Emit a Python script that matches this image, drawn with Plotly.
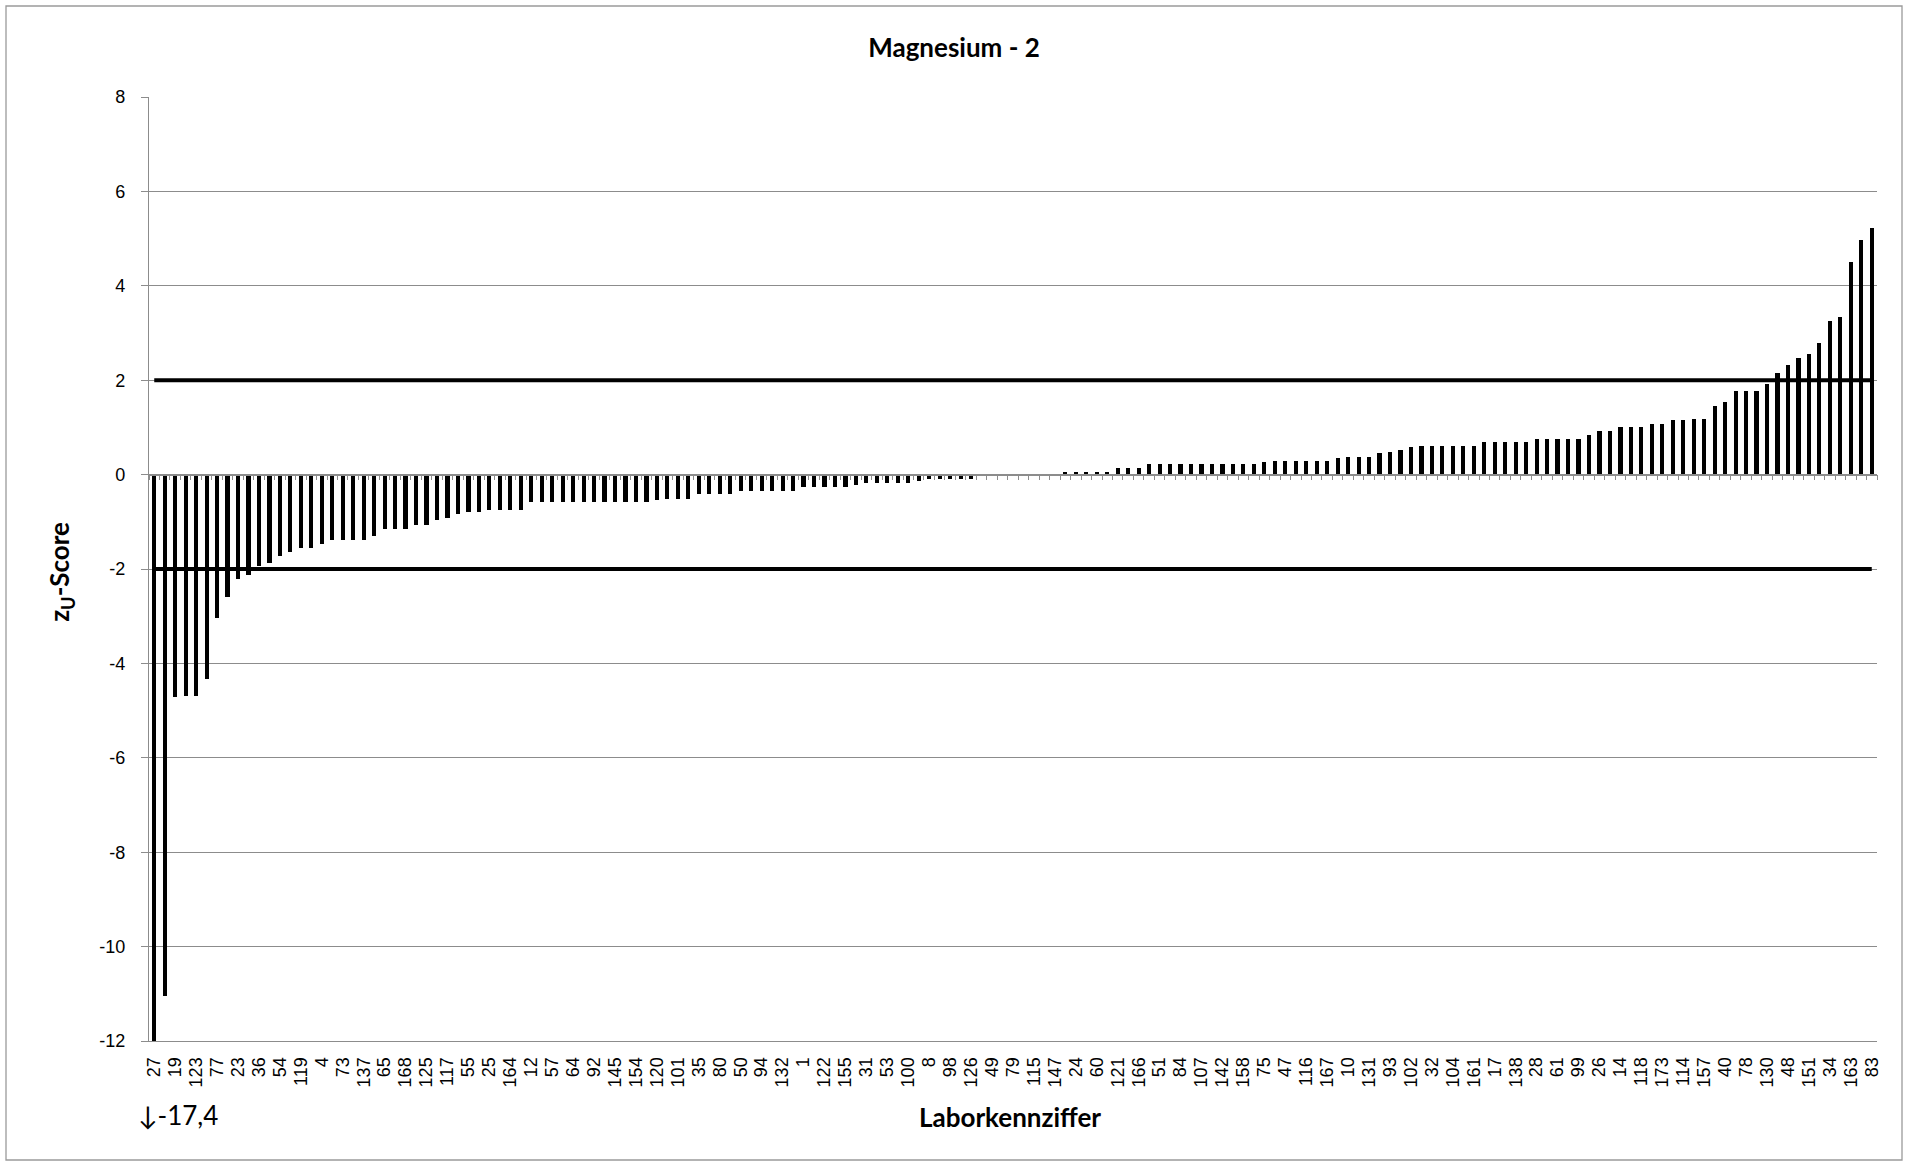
import plotly.graph_objects as go

# ---------------- data ----------------
LAB_LABELS = [
    "27", "19", "123", "77", "23", "36", "54", "119", "4", "73", "137", "65", "168", "125", "117",
    "55", "25", "164", "12", "57", "64", "92", "145", "154", "120", "101", "35", "80", "50", "94",
    "132", "1", "122", "155", "31", "53", "100", "8", "98", "126", "49", "79", "115", "147", "24",
    "60", "121", "166", "51", "84", "107", "142", "158", "75", "47", "116", "167", "10", "131", "93",
    "102", "32", "104", "161", "17", "138", "28", "61", "99", "26", "14", "118", "173", "114", "157",
    "40", "78", "130", "48", "151", "34", "163", "83",
]

Z_SCORES = [
    -17.4, -11.04, -4.71, -4.68, -4.68, -4.33, -3.03, -2.60, -2.21, -2.13,
    -1.93, -1.88, -1.72, -1.63, -1.55, -1.55, -1.48, -1.39, -1.39, -1.39,
    -1.39, -1.30, -1.15, -1.15, -1.15, -1.06, -1.06, -0.97, -0.91, -0.84,
    -0.79, -0.79, -0.76, -0.76, -0.76, -0.76, -0.59, -0.59, -0.59, -0.59,
    -0.59, -0.59, -0.59, -0.59, -0.59, -0.59, -0.59, -0.59, -0.54, -0.51,
    -0.51, -0.51, -0.42, -0.42, -0.42, -0.42, -0.35, -0.35, -0.35, -0.35,
    -0.35, -0.35, -0.27, -0.27, -0.27, -0.27, -0.27, -0.21, -0.18, -0.18,
    -0.18, -0.18, -0.18, -0.13, -0.10, -0.10, -0.10, -0.10, -0.10, 0.0,
    0.0, 0.0, 0.0, 0.0, 0.0, 0.0, 0.0, 0.06, 0.06, 0.06,
    0.06, 0.06, 0.13, 0.13, 0.13, 0.22, 0.22, 0.22, 0.22, 0.22,
    0.22, 0.22, 0.22, 0.22, 0.22, 0.22, 0.27, 0.29, 0.29, 0.29,
    0.29, 0.29, 0.29, 0.35, 0.37, 0.37, 0.37, 0.45, 0.47, 0.53,
    0.58, 0.61, 0.61, 0.61, 0.61, 0.61, 0.61, 0.69, 0.69, 0.69,
    0.69, 0.69, 0.76, 0.76, 0.76, 0.76, 0.76, 0.84, 0.93, 0.93,
    1.00, 1.00, 1.00, 1.07, 1.07, 1.15, 1.15, 1.17, 1.17, 1.46,
    1.54, 1.77, 1.77, 1.77, 1.93, 2.16, 2.32, 2.47, 2.55, 2.78,
    3.25, 3.33, 4.51, 4.96, 5.23,
]

LIMITS = [2, -2]
Y_TICKS = [-12, -10, -8, -6, -4, -2, 0, 2, 4, 6, 8]
Y_TICK_TEXT = ["-12", "-10", "-8", "-6", "-4", "-2", "0", "2", "4", "6", "8"]
CLIPPED_NOTE = "\u2193-17,4"

# ---------------- figure ----------------
positions = list(range(len(Z_SCORES)))
GRID = "#8c8c8c"
TICK_FONT = dict(family="Liberation Sans, Arial, sans-serif", size=18, color="#000000")
TITLE_FONT = dict(family="Lato, Carlito, sans-serif", size=26, color="#000000")

fig = go.Figure()
fig.add_trace(go.Bar(
    x=positions, y=Z_SCORES, width=0.4,
    marker=dict(color="#000000", line=dict(width=0)),
    showlegend=False, hoverinfo="x+y",
))
for lim in LIMITS:
    fig.add_trace(go.Scatter(
        x=[positions[0], positions[-1]], y=[lim, lim], mode="lines",
        line=dict(color="#000000", width=4), showlegend=False, hoverinfo="skip",
    ))

# invisible trace on the overlaying axis (zero-line axis with category ticks)
fig.add_trace(go.Scatter(x=[positions[0]], y=[0], xaxis="x2", mode="markers",
                         marker=dict(opacity=0), showlegend=False, hoverinfo="skip"))

x_range = [-0.5, len(Z_SCORES) - 0.5]
fig.update_layout(
    width=1908, height=1165,
    margin=dict(l=149, r=31, t=97, b=124),
    paper_bgcolor="white", plot_bgcolor="white",
    bargap=0,
    title=dict(text="<b>Magnesium - 2</b>", x=0.5, xref="container", xanchor="center",
               y=1 - 47.5 / 1165, yref="container", yanchor="middle",
               font=dict(family="Lato, Carlito, sans-serif", size=26, color="#000000")),
    xaxis=dict(
        range=x_range, tickmode="array",
        tickvals=positions[::2], ticktext=LAB_LABELS,
        tickangle=-90, tickfont=TICK_FONT, ticks="", showgrid=False,
        showline=True, linecolor=GRID, linewidth=1.3, zeroline=False,
        ticklabelstandoff=8,
    ),
    xaxis2=dict(
        range=x_range, overlaying="x", anchor="free", position=0.6, side="bottom",
        tickmode="array",
        tickvals=[p - 0.5 for p in positions] + [positions[-1] + 0.5],
        showticklabels=False, ticks="outside", ticklen=5, tickwidth=1.3, tickcolor=GRID,
        showline=True, linecolor=GRID, linewidth=1.5, showgrid=False, zeroline=False,
    ),
    yaxis=dict(
        range=[-12, 8], tickmode="array", tickvals=Y_TICKS, ticktext=Y_TICK_TEXT,
        tickfont=TICK_FONT, ticks="outside", ticklen=7, tickwidth=1.3, tickcolor=GRID,
        showline=True, linecolor=GRID, linewidth=1.3,
        showgrid=True, gridcolor=GRID, gridwidth=1.3, zeroline=False,
        ticklabelstandoff=12,
    ),
    annotations=[
        dict(text="<b>z<sub>U</sub>-Score</b>", textangle=-90, xref="paper", yref="paper",
             x=(61 - 149) / 1728, y=0.497, xanchor="center", yanchor="middle",
             showarrow=False, font=TITLE_FONT),
        dict(text="<b>Laborkennziffer</b>", xref="paper", yref="paper",
             x=0.4985, y=(1041 - 1117) / 944, xanchor="center", yanchor="middle",
             showarrow=False, font=TITLE_FONT),
        dict(text=CLIPPED_NOTE, xref="paper", yref="paper",
             x=(136 - 149) / 1728, y=(1041 - 1115) / 944, xanchor="left", yanchor="middle",
             showarrow=False, font=dict(family="Lato, Carlito, sans-serif", size=26, color="#000000")),
    ],
    shapes=[
        dict(type="rect", xref="paper", yref="paper",
             x0=(6 - 149) / 1728, x1=(1902 - 149) / 1728,
             y0=(1041 - 1160) / 944, y1=(1041 - 6) / 944,
             line=dict(color="#9a9a9a", width=1.3), fillcolor="rgba(0,0,0,0)", layer="below"),
    ],
)

fig.write_html("out.html", config={"displayModeBar": False},
               post_script="document.body.style.margin='0';")
